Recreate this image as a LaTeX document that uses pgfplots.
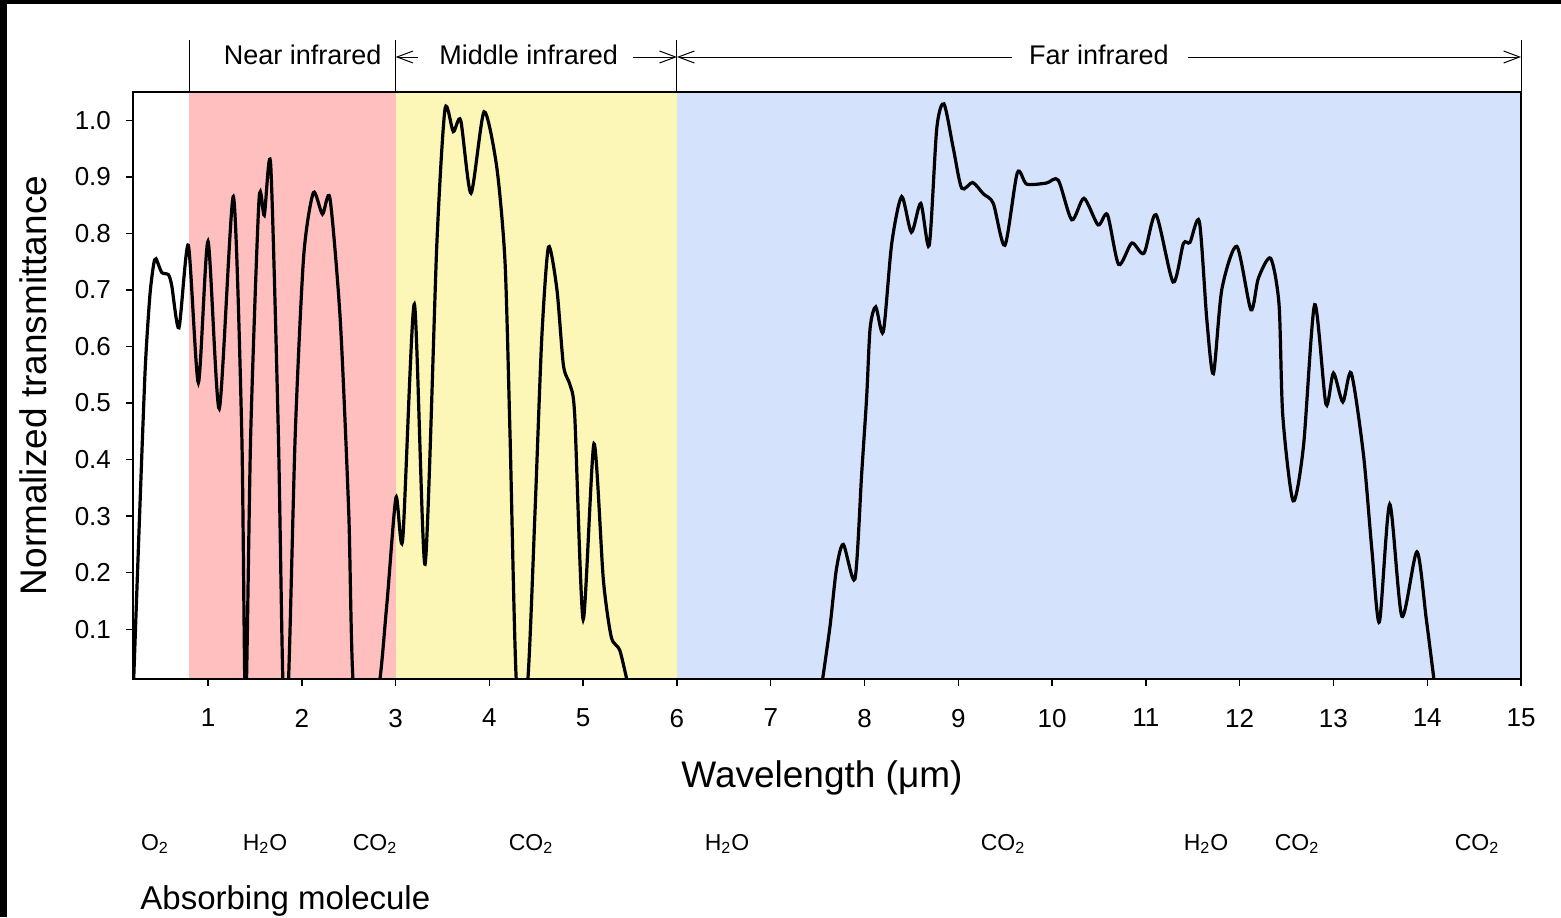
\documentclass[border=0pt]{standalone}
\usepackage{fontspec}
\setmainfont{Liberation Sans}
\usepackage{pgfplots}
\pgfplotsset{compat=1.18}
\usetikzlibrary{arrows.meta}
\definecolor{nirpink}{RGB}{255,191,191}
\definecolor{miryellow}{RGB}{252,247,182}
\definecolor{firblue}{RGB}{213,226,252}
\begin{document}
\begin{tikzpicture}
\useasboundingbox (-66.5pt,-119pt) rectangle (714pt,339.5pt);
\begin{axis}[
  at={(0,0)}, anchor=south west,
  scale only axis, width=694pt, height=293.5pt,
  xmin=0.2, xmax=15, ymin=0.012, ymax=1.05,
  axis on top,
  axis line style={line width=0.9pt},
  tick align=outside, tick style={line width=0.7pt, black}, major tick length=3.5pt,
  xtick={1,...,15}, ytick={0.1,0.2,0.3,0.4,0.5,0.6,0.7,0.8,0.9,1.0},
  xtick pos=bottom, ytick pos=left,
  /pgf/number format/assume math mode=true,
  yticklabel={\pgfmathprintnumber[fixed,fixed zerofill,precision=1]{\tick}},
  ticklabel style={font=\fontsize{13}{15}\selectfont},
  xticklabel style={yshift=-8pt},
  yticklabel style={xshift=-4pt},
  xlabel={Wavelength (μm)},
  ylabel={Normalized transmittance},
  label style={font=\fontsize{18.5}{22}\selectfont},
  xlabel style={at={(axis description cs:0.4964,-0.169)}, anchor=center},
  ylabel style={at={(axis description cs:-0.072,0.5)}, anchor=center},
]
\addplot[draw=none, fill=nirpink] coordinates {(0.8,1.1) (3,1.1)} \closedcycle;
\addplot[draw=none, fill=miryellow] coordinates {(3,1.1) (6,1.1)} \closedcycle;
\addplot[draw=none, fill=firblue] coordinates {(6,1.1) (15,1.1)} \closedcycle;

\addplot[black, line width=1.6pt, smooth, tension=0.42] coordinates {
(0.205,0.0) (0.27,0.30) (0.33,0.56) (0.38,0.69) (0.42,0.745) (0.446,0.755) (0.506,0.731)
(0.577,0.727) (0.613,0.708) (0.69,0.633) (0.79,0.779) (0.897,0.536) (1.0,0.786)
(1.12,0.49) (1.27,0.865) (1.36,0.445) (1.40,-0.05) (1.455,0.445) (1.544,0.86)
(1.60,0.832) (1.668,0.922) (1.75,0.445) (1.80,0.0) (1.856,0.0) (1.93,0.445)
(2.02,0.76) (2.123,0.872) (2.22,0.834) (2.30,0.862) (2.41,0.647) (2.50,0.309) (2.56,-0.02)
(2.80,-0.02) (2.905,0.141) (3.004,0.333) (3.076,0.259) (3.20,0.675) (3.314,0.215)
(3.44,0.782) (3.527,1.020) (3.615,0.98) (3.694,1.0) (3.804,0.871) (3.943,1.015)
(4.078,0.918) (4.167,0.749) (4.22,0.445) (4.29,0.0) (4.405,0.0) (4.487,0.309)
(4.558,0.613) (4.63,0.776) (4.72,0.701) (4.79,0.566) (4.86,0.532) (4.91,0.478)
(5.0,0.117) (5.115,0.428) (5.215,0.188) (5.30,0.086) (5.39,0.063) (5.48,0.0)
};
\addplot[black, line width=1.6pt, smooth, tension=0.45] coordinates {
(7.543,0.0) (7.632,0.105) (7.70,0.206) (7.774,0.25) (7.898,0.189) (7.97,0.376)
(8.023,0.511) (8.06,0.633) (8.12,0.670) (8.20,0.626) (8.29,0.782) (8.396,0.865)
(8.50,0.802) (8.60,0.853) (8.69,0.779) (8.77,0.985) (8.847,1.029) (8.946,0.951)
(9.036,0.880) (9.153,0.890) (9.266,0.870) (9.373,0.853) (9.497,0.779) (9.629,0.907)
(9.73,0.887) (9.94,0.889) (10.066,0.894) (10.21,0.824) (10.34,0.862) (10.49,0.815)
(10.59,0.833) (10.71,0.745) (10.85,0.783) (10.98,0.765) (11.108,0.833) (11.29,0.714)
(11.40,0.782) (11.47,0.784) (11.57,0.821) (11.65,0.647) (11.72,0.552) (11.81,0.701)
(11.97,0.777) (12.12,0.665) (12.20,0.721) (12.33,0.756) (12.42,0.674) (12.46,0.477)
(12.57,0.327) (12.68,0.423) (12.80,0.674) (12.92,0.498) (13.0,0.553) (13.10,0.502)
(13.19,0.553) (13.32,0.409) (13.41,0.240) (13.49,0.113) (13.60,0.321) (13.73,0.123)
(13.89,0.237) (13.99,0.118) (14.08,0.0)
};
\coordinate (t08) at (axis cs:0.8,1.05);
\coordinate (t3) at (axis cs:3,1.05);
\coordinate (t6) at (axis cs:6,1.05);
\coordinate (t15) at (axis cs:15,1.05);
\coordinate (m1) at (axis cs:3.24,1.05);
\coordinate (m2) at (axis cs:5.53,1.05);
\coordinate (f1) at (axis cs:9.57,1.05);
\coordinate (f2) at (axis cs:11.45,1.05);
\coordinate (ln) at (axis cs:2.01,1.05);
\coordinate (lm) at (axis cs:4.42,1.05);
\coordinate (lf) at (axis cs:10.5,1.05);
\end{axis}
\foreach \c in {t08,t3,t6,t15} \draw[line width=0.5pt] (\c) -- ++(0,26pt);
\tikzset{ann/.style={line width=0.5pt, -{Straight Barb[length=8pt,width=6pt,line width=0.5pt]}}}
\draw[ann] ([yshift=17.5pt]m1) -- ([yshift=17.5pt]t3);
\draw[ann] ([yshift=17.5pt]m2) -- ([yshift=17.5pt]t6);
\draw[ann] ([yshift=17.5pt]f1) -- ([yshift=17.5pt]t6);
\draw[ann] ([yshift=17.5pt]f2) -- ([yshift=17.5pt]t15);
\tikzset{toplab/.style={font=\fontsize{13.5}{16}\selectfont, inner sep=0pt}}
\node[toplab] at ([yshift=18.5pt]ln) {Near infrared};
\node[toplab] at ([yshift=18.5pt]lm) {Middle infrared};
\node[toplab] at ([yshift=18.5pt]lf) {Far infrared};
\tikzset{mol/.style={font=\fontsize{11.5}{14}\selectfont, inner sep=0pt}}
\node[mol] at (11pt,-82.5pt) {O\textsubscript{2}};
\node[mol] at (66pt,-82.5pt) {H\textsubscript{2}O};
\node[mol] at (121pt,-82.5pt) {CO\textsubscript{2}};
\node[mol] at (199pt,-82.5pt) {CO\textsubscript{2}};
\node[mol] at (297pt,-82.5pt) {H\textsubscript{2}O};
\node[mol] at (435pt,-82.5pt) {CO\textsubscript{2}};
\node[mol] at (536.5pt,-82.5pt) {H\textsubscript{2}O};
\node[mol] at (582pt,-82.5pt) {CO\textsubscript{2}};
\node[mol] at (672pt,-82.5pt) {CO\textsubscript{2}};
\node[anchor=west, inner sep=0pt, font=\fontsize{16.5}{20}\selectfont] at (3.5pt,-111pt) {Absorbing molecule};
\fill[black] (-66.5pt,337.3pt) rectangle (714pt,339.5pt);
\fill[black] (-66.5pt,-119pt) rectangle (-63pt,339.5pt);
\end{tikzpicture}
\end{document}
